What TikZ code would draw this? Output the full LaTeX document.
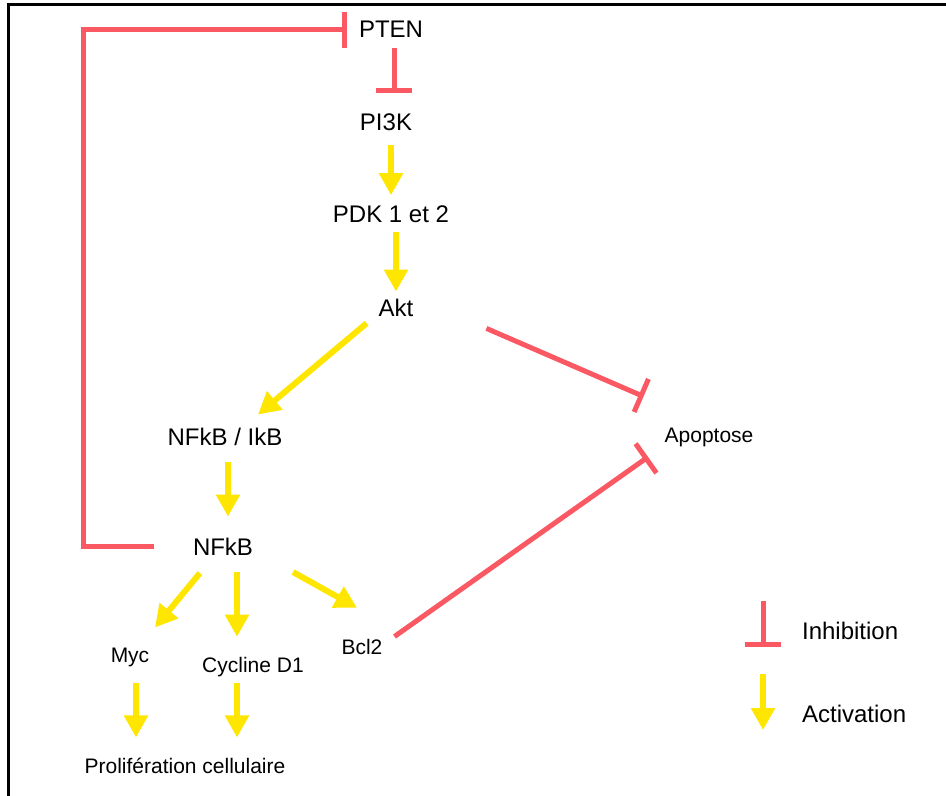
\documentclass[tikz,border=0pt]{standalone}
\usepackage{fontspec}
\setmainfont{Liberation Sans}
\usetikzlibrary{arrows.meta,calc}

\definecolor{inhred}{RGB}{250,88,98}
\definecolor{actyellow}{RGB}{255,230,0}

\begin{document}
\begin{tikzpicture}[x=0.5pt,y=-0.5pt,
    big/.style={anchor=base,font=\fontsize{12}{14}\selectfont},
    small/.style={anchor=base,font=\fontsize{10.5}{12}\selectfont},
    act/.style={draw=actyellow,line width=3pt,-{Triangle[width=11.5pt,length=11pt]},fill=actyellow},
    inhib/.style={draw=inhred,line width=2.5pt,-{Bar[width=18pt]}}]
  \useasboundingbox (0,0) rectangle (946,796);
  % frame
  \draw[line width=1.5pt] (8,796) -- (8,5) -- (946,5);

  % pathway
  \node[big] (pten) at (391,38) {PTEN};
  \node[big] (pi3k) at (386,131) {PI3K};
  \node[big] (pdk) at (391,223) {PDK 1 et 2};
  \node[big] (akt) at (396,316) {Akt};
  \node[big] (nfkbikb) at (225,445) {NFkB / IkB};
  \node[big] (nfkb) at (223,555) {NFkB};
  \node[small] (apop) at (709,442) {Apoptose};
  \node[small] (myc) at (130,662) {Myc};
  \node[small] (cyc) at (253,672) {Cycline D1};
  \node[small] (bcl) at (362,654) {Bcl2};
  \node[small] (prolif) at (185,773) {Prolifération cellulaire};

  % legend
  \node[big,anchor=base west] (inhtxt) at (795,639) {Inhibition};
  \node[big,anchor=base west] (acttxt) at (795,722) {Activation};
  \coordinate (inhA) at (763,601);
  \coordinate (inhB) at (763,647);
  \coordinate (actA) at (763,674);
  \coordinate (actB) at (763,730);

  % inhibitions
  \draw[inhib,shorten <=1.5pt,shorten >=7pt] ([xshift=1.5pt]pten.south) -- ([xshift=1.5pt]pten.south |- pi3k.north);
  \draw[inhib,shorten <=16pt,shorten >=2.5pt] (nfkb.west) -- ++(-51pt,0) |- (pten.west); % feedback
  \draw[inhib] ([xshift=33pt,yshift=-10.5pt]akt.east) -- ([xshift=-7pt,yshift=12pt]apop.north west);
  \draw[inhib] ([xshift=2.5pt,yshift=5pt]bcl.east) -- ([xshift=-4.75pt,yshift=-1.75pt]apop.south west);
  \draw[inhib] (inhA) -- (inhB);

  % activations
  \draw[act,shorten <=3.5pt,shorten >=2pt] (pdk.north |- pi3k.south) -- (pdk.north);
  \draw[act,shorten <=1pt] (akt.north |- pdk.south) -- (akt.north);
  \draw[act] ([xshift=-2.5pt]akt.south west) -- ([xshift=16.5pt,yshift=3pt]nfkbikb.north);
  \draw[act,shorten <=5pt,shorten >=7pt] ([xshift=1.5pt]nfkbikb.south) -- ([xshift=1.5pt]nfkbikb.south |- nfkb.north);
  \draw[act] ([xshift=7pt,yshift=-5.5pt]nfkb.south west) -- ([xshift=12.5pt,yshift=6.5pt]myc.north);
  \draw[act,shorten <=5pt,shorten >=6.5pt] ([xshift=7pt]nfkb.south) -- ([xshift=7pt]nfkb.south |- cyc.north);
  \draw[act] ([xshift=16.5pt,yshift=-5pt]nfkb.south east) -- ([xshift=-2.5pt,yshift=12pt]bcl.north);
  \draw[act,shorten <=5pt,shorten >=6.5pt] ([xshift=3pt]myc.south) -- ([xshift=3pt]myc.south |- prolif.north);
  \draw[act,shorten >=6.5pt] ([xshift=-8pt]cyc.south) -- ([xshift=-8pt]cyc.south |- prolif.north);
  \draw[act] (actA) -- (actB);
\end{tikzpicture}
\end{document}
